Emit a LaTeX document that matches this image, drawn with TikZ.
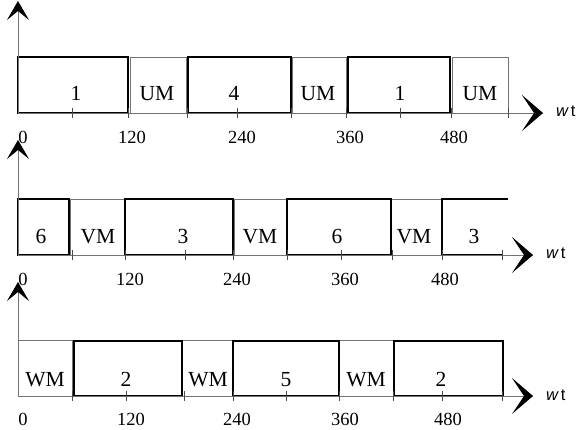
\documentclass[tikz,border=0pt]{standalone}
\usepackage{fontspec}
\setmainfont{Liberation Serif}
\newfontfamily\wtfont{Liberation Sans}
\usetikzlibrary{arrows.meta,fit}
\begin{document}
\begin{tikzpicture}[x=1pt,y=-1pt,
  thinbox/.style={draw=black!55, line width=0.8pt, inner sep=0pt, outer sep=0pt, rectangle},
  heavy/.style={draw=black, line width=2.8pt, inner sep=0pt, outer sep=0pt, rectangle},
  heavyline/.style={draw=black, line width=2.8pt},
  axisline/.style={draw=black!55, line width=0.9pt},
  vaxis/.style={axisline, -{Stealth[length=19pt,width=22pt,inset=9pt,color=black]}},
  haxis/.style={axisline, -{Stealth[length=21pt,width=36pt,inset=12pt,color=black]}},
  tickmark/.style={draw=black!70, line width=0.7pt},
  boxlab/.style={font=\fontsize{21.5}{21.5}\selectfont, anchor=base, inner sep=0pt},
  axlab/.style={font=\fontsize{18.5}{18.5}\selectfont, anchor=base, inner sep=0pt},
  wt/.style={font=\wtfont\fontsize{16.5}{16.5}\selectfont, anchor=west, inner sep=0pt}]
\useasboundingbox (0,0) rectangle (576,429);

% ---------- panel 1 ----------
\coordinate (o1) at (18,113);
\coordinate (y1) at (18,1);
\coordinate (x1) at (543,113);
\draw[axisline] (o1) -- (x1);
\node[thinbox, fit={(130,57) (186,113)}] (um1) {};
\node[thinbox, fit={(292,57) (346,113)}] (um2) {};
\node[thinbox, fit={(452,57) (508,113)}] (um3) {};
\node[heavy, fit={(18,57) (128,113)}] (p1a) {};
\node[heavy, fit={(188,57) (291,113)}] (p1b) {};
\node[heavy, fit={(348,57) (450,113)}] (p1c) {};
\draw[vaxis] (o1) -- (y1);
\draw[haxis] (o1) -- (x1);
\foreach \x in {72,128,187,237,291,346,400,451,508} \draw[tickmark] (\x,108) -- (\x,118);
\node[boxlab] (l1a) at (76,100) {1};
\node[boxlab] (l1b) at (157,100) {UM};
\node[boxlab] (l1c) at (234,100) {4};
\node[boxlab] (l1d) at (318,100) {UM};
\node[boxlab] (l1e) at (400,100) {1};
\node[boxlab] (l1f) at (480,100) {UM};
\node[axlab] (a1a) at (23,143) {0};
\node[axlab] (a1b) at (132,143) {120};
\node[axlab] (a1c) at (242,143) {240};
\node[axlab] (a1d) at (350,143) {360};
\node[axlab] (a1e) at (454,143) {480};
\node[wt] (wt1) at (556,111) {\itshape w\upshape\,t};

% ---------- panel 2 ----------
\coordinate (o2) at (18,255);
\coordinate (y2) at (18,140);
\coordinate (x2) at (533,255);
\draw[axisline] (o2) -- (x2);
\node[thinbox, fit={(70,199) (125,255)}] (vm1) {};
\node[thinbox, fit={(234,199) (287,255)}] (vm2) {};
\node[thinbox, fit={(391,199) (442,255)}] (vm3) {};
\node[heavy, fit={(18,199) (69,255)}] (p2a) {};
\node[heavy, fit={(125,199) (233,255)}] (p2b) {};
\node[heavy, fit={(287,199) (391,255)}] (p2c) {};
\draw[heavyline] (508,199) -- (442,199) -- (442,255) -- (503,255);
\draw[vaxis] (o2) -- (y2);
\draw[haxis] (o2) -- (x2);
\foreach \x in {72,125,185,233,287,341,392,442,502} \draw[tickmark] (\x,250) -- (\x,260);
\node[boxlab] (l2a) at (41,243) {6};
\node[boxlab] (l2b) at (98,243) {VM};
\node[boxlab] (l2c) at (183,243) {3};
\node[boxlab] (l2d) at (260,243) {VM};
\node[boxlab] (l2e) at (337,243) {6};
\node[boxlab] (l2f) at (414,243) {VM};
\node[boxlab] (l2g) at (474,243) {3};
\node[axlab] (a2a) at (23,285) {0};
\node[axlab] (a2b) at (130,285) {120};
\node[axlab] (a2c) at (237,285) {240};
\node[axlab] (a2d) at (345,285) {360};
\node[axlab] (a2e) at (445,285) {480};
\node[wt] (wt2) at (546,253) {\itshape w\upshape\,t};

% ---------- panel 3 ----------
\coordinate (o3) at (18,396);
\coordinate (y3) at (18,282);
\coordinate (x3) at (533,396);
\draw[axisline] (o3) -- (x3);
\node[thinbox, fit={(18,340) (72,396)}] (wm1) {};
\node[thinbox, fit={(182,340) (233,396)}] (wm2) {};
\node[thinbox, fit={(339,340) (393,396)}] (wm3) {};
\node[heavy, fit={(74,341) (182,396)}] (p3a) {};
\node[heavy, fit={(233,341) (339,396)}] (p3b) {};
\node[heavy, fit={(394,341) (503,396)}] (p3c) {};
\draw[vaxis] (o3) -- (y3);
\draw[haxis] (o3) -- (x3);
\foreach \x in {72,126,184,233,286,339,393,442,502} \draw[tickmark] (\x,391) -- (\x,401);
\node[boxlab] (l3a) at (45,386) {WM};
\node[boxlab] (l3b) at (126,386) {2};
\node[boxlab] (l3c) at (208,386) {WM};
\node[boxlab] (l3d) at (286,386) {5};
\node[boxlab] (l3e) at (366,386) {WM};
\node[boxlab] (l3f) at (441,386) {2};
\node[axlab] (a3a) at (23,425) {0};
\node[axlab] (a3b) at (131,425) {120};
\node[axlab] (a3c) at (237,425) {240};
\node[axlab] (a3d) at (345,425) {360};
\node[axlab] (a3e) at (448,425) {480};
\node[wt] (wt3) at (546,395) {\itshape w\upshape\,t};
\end{tikzpicture}
\end{document}
